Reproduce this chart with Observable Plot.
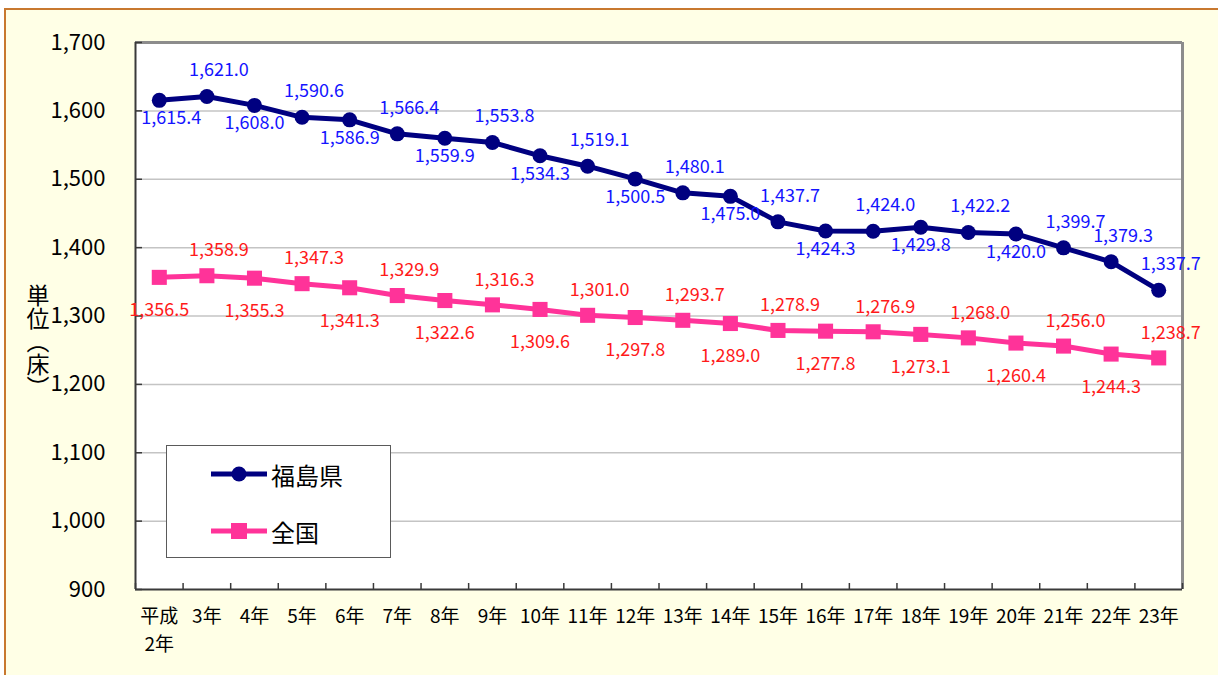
<!DOCTYPE html>
<html>
<head>
<meta charset="utf-8">
<script src="https://cdn.jsdelivr.net/npm/d3@7"></script>
<script src="https://cdn.jsdelivr.net/npm/@observablehq/plot@0.6"></script>
<style>
  html, body { margin: 0; padding: 0; background: #ffffff; }
  #wrap { position: relative; width: 1218px; height: 675px; overflow: hidden; font-family: "Noto Sans CJK JP", "Noto Sans", sans-serif; }
  #frame { position: absolute; left: 4px; top: 8px; width: 1300px; height: 700px; border-left: 2px solid #C8782F; border-top: 2px solid #C8782F; background: #FFFFE6; }
  #chart { position: absolute; left: 0; top: 0; }
  #ytitle { position: absolute; left: 26px; top: 284px; writing-mode: vertical-rl; font-size: 23px; line-height: 1; color: #000; }
  #legend { position: absolute; left: 166px; top: 445px; width: 223px; height: 111px; border: 1.5px solid #5a5a5a; background: #fff; }
  .row { position: absolute; left: 44px; height: 30px; display: flex; align-items: center; }
  .row span { font-size: 24px; margin-left: 4px; color: #000; }
</style>
</head>
<body>
<div id="wrap">
  <div id="frame"></div>
  <div id="chart"></div>
  <div id="ytitle">単位（床）</div>
  <div id="legend"></div>
</div>
<script>
const categories = ["平成\n2年","3年","4年","5年","6年","7年","8年","9年","10年","11年","12年","13年","14年","15年","16年","17年","18年","19年","20年","21年","22年","23年"];
const seriesNames = ["福島県", "全国"];
const fukushima = [1615.4,1621.0,1608.0,1590.6,1586.9,1566.4,1559.9,1553.8,1534.3,1519.1,1500.5,1480.1,1475.0,1437.7,1424.3,1424.0,1429.8,1422.2,1420.0,1399.7,1379.3,1337.7];
const national = [1356.5,1358.9,1355.3,1347.3,1341.3,1329.9,1322.6,1316.3,1309.6,1301.0,1297.8,1293.7,1289.0,1278.9,1277.8,1276.9,1273.1,1268.0,1260.4,1256.0,1244.3,1238.7];
const yTicks = [900,1000,1100,1200,1300,1400,1500,1600,1700];

const blueLine = "#000080", pinkLine = "#FF3399";
const blueText = "#1414FF", redText = "#FF1A1A";

const rowsF = fukushima.map((v, i) => ({i, v}));
const rowsN = national.map((v, i) => ({i, v}));
// label placement: odd indices above, even below (福島県 22年 also above)
const aboveF = rowsF.filter(d => d.i % 2 === 1 || d.i === 20);
const belowF = rowsF.filter(d => !(d.i % 2 === 1 || d.i === 20));
const aboveN = rowsN.filter(d => d.i % 2 === 1);
const belowN = rowsN.filter(d => d.i % 2 === 0);
const boundaries = d3.range(categories.length + 1).map(i => i - 0.5);

const W = 1218, H = 675, mL = 135, mR = 36, mT = 42, mB = 86;
const pw = W - mL - mR, ph = H - mT - mB;
const fmt = d3.format(",.1f");
const font = "Noto Sans CJK JP";

const chart = Plot.plot({
  width: W, height: H,
  marginLeft: mL, marginRight: mR, marginTop: mT, marginBottom: mB,
  style: {background: "transparent", fontFamily: font, color: "#000"},
  x: {type: "linear", domain: [-0.5, categories.length - 0.5], label: null},
  y: {domain: [900, 1700], label: null},
  marks: [
    Plot.frame({fill: "white", stroke: "none"}),
    Plot.ruleY(yTicks.filter(d => d > 900 && d < 1700), {stroke: "#c4c4c4", strokeWidth: 1.5}),
    Plot.ruleY([1700], {stroke: "#8c8c8c", strokeWidth: 3}),
    Plot.ruleX([categories.length - 0.5], {stroke: "#8c8c8c", strokeWidth: 3}),
    Plot.ruleX([-0.5], {stroke: "#3a3a3a", strokeWidth: 2}),
    Plot.ruleY([900], {stroke: "#3a3a3a", strokeWidth: 2}),
    Plot.tickY(yTicks, {y: d => d, stroke: "#3a3a3a", strokeWidth: 1.5, insetRight: pw - 7}),
    Plot.tickX(boundaries, {x: d => d, stroke: "#3a3a3a", strokeWidth: 1.5, insetTop: ph - 6}),
    Plot.axisY(yTicks, {tickSize: 0, tickPadding: 30, fontSize: 22, tickFormat: d3.format(","), fontFamily: font, label: null}),
    Plot.axisX(d3.range(categories.length), {tickSize: 0, tickPadding: 14, fontSize: 19, lineHeight: 1.45, tickFormat: i => categories[i], fontFamily: font, label: null}),
    Plot.line(rowsF, {x: "i", y: "v", stroke: blueLine, strokeWidth: 5}),
    Plot.dot(rowsF, {x: "i", y: "v", fill: blueLine, r: 7.5, symbol: "circle"}),
    Plot.line(rowsN, {x: "i", y: "v", stroke: pinkLine, strokeWidth: 5}),
    Plot.dot(rowsN, {x: "i", y: "v", fill: pinkLine, r: 8.5, symbol: "square"}),
    Plot.text(aboveF, {x: "i", y: "v", text: d => fmt(d.v), fill: blueText, fontSize: 18, dy: -26, dx: 12}),
    Plot.text(belowF.filter(d => d.i === 0), {x: "i", y: "v", text: d => fmt(d.v), fill: blueText, fontSize: 18, dy: 18, dx: 12}),
    Plot.text(belowF.filter(d => d.i !== 0), {x: "i", y: "v", text: d => fmt(d.v), fill: blueText, fontSize: 18, dy: 18, dx: 0}),
    Plot.text(aboveN, {x: "i", y: "v", text: d => fmt(d.v), fill: redText, fontSize: 18, dy: -25, dx: 12}),
    Plot.text(belowN, {x: "i", y: "v", text: d => fmt(d.v), fill: redText, fontSize: 18, dy: 33, dx: 0})
  ]
});
document.getElementById("chart").appendChild(chart);

// legend
const legend = document.getElementById("legend");
const items = [
  {name: seriesNames[0], color: blueLine, shape: "circle", top: 13},
  {name: seriesNames[1], color: pinkLine, shape: "square", top: 70}
];
for (const it of items) {
  const row = document.createElement("div");
  row.className = "row";
  row.style.top = it.top + "px";
  const marker = it.shape === "circle"
    ? `<circle cx="28" cy="15" r="7.5" fill="${it.color}"/>`
    : `<rect x="20" y="7" width="16" height="16" fill="${it.color}"/>`;
  row.innerHTML = `<svg width="56" height="30"><line x1="0" y1="15" x2="56" y2="15" stroke="${it.color}" stroke-width="5" stroke-linecap="round"/>${marker}</svg><span>${it.name}</span>`;
  legend.appendChild(row);
}
</script>
</body>
</html>
